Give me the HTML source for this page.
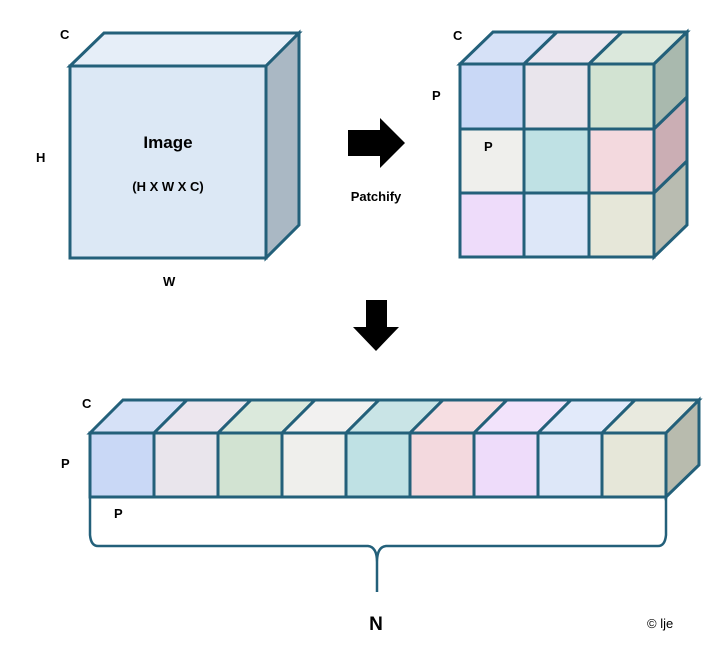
<!DOCTYPE html>
<html><head><meta charset="utf-8"><style>
html,body{margin:0;padding:0;background:#fff;}
svg{display:block;}
text{font-family:"Liberation Sans",sans-serif;font-weight:bold;fill:#000;}
</style></head><body>
<svg width="728" height="654" viewBox="0 0 728 654" xmlns="http://www.w3.org/2000/svg">
<g stroke="#23607a" stroke-width="3" stroke-linejoin="miter">
<polygon points="70,66 104,33 299,33 266,66" fill="#e6eef8"/>
<polygon points="266,66 299,33 299,225 266,258" fill="#aab8c4"/>
<rect x="70" y="66" width="196" height="192" fill="#dce8f5"/>
<polygon points="460,64 493,32 557,32 524,64" fill="#d6e1f7"/>
<polygon points="524,64 557,32 622,32 589,64" fill="#ebe6ef"/>
<polygon points="589,64 622,32 687,32 654,64" fill="#dbe8dc"/>
<polygon points="654,64 687,32 687,97 654,129" fill="#a9b9ae"/>
<polygon points="654,129 687,97 687,161 654,193" fill="#cbaeb4"/>
<polygon points="654,193 687,161 687,225 654,257" fill="#b9bcb1"/>
<rect x="460" y="64" width="64" height="65" fill="#c9d8f6"/>
<rect x="524" y="64" width="65" height="65" fill="#e9e5ec"/>
<rect x="589" y="64" width="65" height="65" fill="#d2e3d2"/>
<rect x="460" y="129" width="64" height="64" fill="#efefec"/>
<rect x="524" y="129" width="65" height="64" fill="#bfe1e4"/>
<rect x="589" y="129" width="65" height="64" fill="#f3d9de"/>
<rect x="460" y="193" width="64" height="64" fill="#eedcfa"/>
<rect x="524" y="193" width="65" height="64" fill="#dde7f8"/>
<rect x="589" y="193" width="65" height="64" fill="#e6e7d9"/>
<polygon points="90,433 123,400 187,400 154,433" fill="#d6e1f7"/>
<polygon points="154,433 187,400 251,400 218,433" fill="#ece6ee"/>
<polygon points="218,433 251,400 315,400 282,433" fill="#dbe9dc"/>
<polygon points="282,433 315,400 379,400 346,433" fill="#f2f1f0"/>
<polygon points="346,433 379,400 443,400 410,433" fill="#c9e4e6"/>
<polygon points="410,433 443,400 507,400 474,433" fill="#f6dee2"/>
<polygon points="474,433 507,400 571,400 538,433" fill="#f2e3fb"/>
<polygon points="538,433 571,400 635,400 602,433" fill="#e2eafa"/>
<polygon points="602,433 635,400 699,400 666,433" fill="#e9eadf"/>
<polygon points="666,433 699,400 699,465 666,497" fill="#b8bbae"/>
<rect x="90" y="433" width="64" height="64" fill="#c9d8f6"/>
<rect x="154" y="433" width="64" height="64" fill="#e9e5ec"/>
<rect x="218" y="433" width="64" height="64" fill="#d2e3d2"/>
<rect x="282" y="433" width="64" height="64" fill="#efefec"/>
<rect x="346" y="433" width="64" height="64" fill="#bfe1e4"/>
<rect x="410" y="433" width="64" height="64" fill="#f3d9de"/>
<rect x="474" y="433" width="64" height="64" fill="#eedcfa"/>
<rect x="538" y="433" width="64" height="64" fill="#dde7f8"/>
<rect x="602" y="433" width="64" height="64" fill="#e6e7d9"/>
<path d="M90,497 L90,535 Q91,546 98,546 L368,546 Q377,547 377,562 L377,592 M666,497 L666,535 Q665,546 658,546 L386,546 Q377,547 377,562" fill="none" stroke-width="2.5"/>
</g>
<polygon points="348,130 380,130 380,118 405,143 380,168 380,156 348,156" fill="#000"/>
<polygon points="366,300 387,300 387,327 399,327 376,351 353,327 366,327" fill="#000"/>
<text x="60" y="39" font-size="13">C</text>
<text x="36" y="162" font-size="13">H</text>
<text x="163" y="286" font-size="13">W</text>
<text x="168" y="148" font-size="17" text-anchor="middle">Image</text>
<text x="168" y="191" font-size="13" text-anchor="middle">(H X W X C)</text>
<text x="376" y="201" font-size="13" text-anchor="middle">Patchify</text>
<text x="453" y="40" font-size="13">C</text>
<text x="432" y="100" font-size="13">P</text>
<text x="484" y="151" font-size="13">P</text>
<text x="82" y="408" font-size="13">C</text>
<text x="61" y="468" font-size="13">P</text>
<text x="114" y="518" font-size="13">P</text>
<text x="376" y="630" font-size="19" text-anchor="middle">N</text>
<text x="647" y="628" font-size="13" style="font-weight:normal">© lje</text>
</svg>
</body></html>
